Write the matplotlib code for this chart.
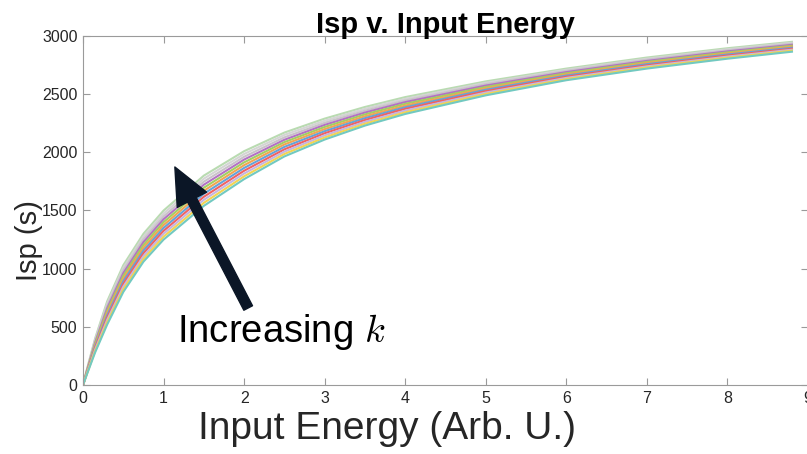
import numpy as np
import matplotlib
matplotlib.use("Agg")
import matplotlib.pyplot as plt

plt.rcParams["font.family"] = ["Liberation Sans", "DejaVu Sans"]
plt.rcParams["mathtext.fontset"] = "cm"

# input energy samples (Arb. U.)
energy = [0, 0.05, 0.15, 0.3, 0.5, 0.75, 1, 1.5, 2, 2.5, 3, 3.5, 4, 5, 6, 7, 8, 8.8]

# Isp curves, top (largest k) to bottom
isp_curves = [
    [0, 140, 400, 720, 1030, 1300, 1500, 1800, 2010, 2170, 2290, 2390, 2475, 2610, 2720, 2815, 2895, 2950],
    [0, 135, 388, 700, 1007, 1276, 1475, 1774, 1986, 2150, 2272, 2374, 2460, 2598, 2710, 2805, 2886, 2942],
    [0, 131, 376, 680, 984, 1252, 1450, 1748, 1962, 2129, 2254, 2358, 2446, 2586, 2700, 2796, 2877, 2933],
    [0, 126, 364, 660, 961, 1228, 1425, 1722, 1938, 2108, 2236, 2342, 2432, 2574, 2690, 2786, 2868, 2924],
    [0, 122, 352, 640, 938, 1204, 1400, 1696, 1914, 2088, 2218, 2326, 2417, 2562, 2680, 2777, 2859, 2916],
    [0, 118, 340, 620, 915, 1180, 1375, 1670, 1890, 2068, 2200, 2310, 2402, 2550, 2670, 2768, 2850, 2908],
    [0, 113, 328, 600, 892, 1156, 1350, 1644, 1866, 2047, 2182, 2294, 2388, 2538, 2660, 2758, 2841, 2899],
    [0, 108, 316, 580, 869, 1132, 1325, 1618, 1842, 2026, 2164, 2278, 2374, 2526, 2650, 2748, 2832, 2890],
    [0, 104, 304, 560, 846, 1108, 1300, 1592, 1818, 2006, 2146, 2262, 2359, 2514, 2640, 2739, 2823, 2882],
    [0, 100, 292, 540, 823, 1084, 1275, 1566, 1794, 1986, 2128, 2246, 2344, 2502, 2630, 2730, 2814, 2874],
    [0, 95, 280, 520, 800, 1060, 1250, 1540, 1770, 1965, 2110, 2230, 2330, 2490, 2620, 2720, 2805, 2865],
]
curve_colors = ["#b9dbb1", "#d4d4d4", "#c9c3c9", "#b272c4", "#a3cf62", "#f2a552",
                "#64a3d9", "#f06262", "#c4b5e2", "#f2d452", "#72c9c1"]

xticks = list(range(0, 10))
yticks = list(range(0, 3001, 500))

fig = plt.figure(figsize=(8.07, 4.54), dpi=100)
ax = fig.add_axes([0.1029, 0.152, 0.8984, 0.7687])

for vals, c in zip(isp_curves, curve_colors):
    ax.plot(energy, vals, color=c, lw=1.5)

ax.set_xlim(0, 9)
ax.set_ylim(0, 3000)
ax.set_xticks(xticks)
ax.set_yticks(yticks)
ax.tick_params(direction="in", top=True, right=True, length=5, width=0.8,
               color="#9a9a9a", labelcolor="#262626", labelsize=11.5, pad=4)
for s in ax.spines.values():
    s.set_color("#9a9a9a")
    s.set_linewidth(0.8)

ax.set_title("Isp v. Input Energy", fontsize=21, fontweight="bold", pad=2)
ax.set_xlabel("Input Energy (Arb. U.)", fontsize=28, color="#262626")
ax.xaxis.set_label_coords(0.419, -0.075, transform=ax.transAxes)
ax.xaxis.label.set_va("top")
ax.set_ylabel("Isp (s)", fontsize=21, color="#262626")
ax.yaxis.set_label_coords(-0.055, 0.415, transform=ax.transAxes)

ax.annotate("", xy=(1.14, 1874), xytext=(2.05, 662),
            arrowprops=dict(arrowstyle="simple,head_width=1.7,head_length=1.9,tail_width=0.5",
                            mutation_scale=14, color="#0b1626", shrinkA=0, shrinkB=0))
ax.text(1.165, 370, "Increasing $k$", fontsize=27.5, ha="left", va="baseline")

fig.savefig("out.png", dpi=100)
